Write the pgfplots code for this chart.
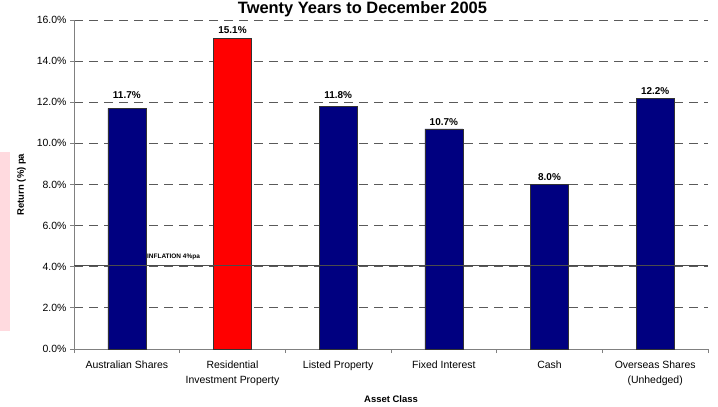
\documentclass[border=0pt]{standalone}
\usepackage{pgfplots}
\pgfplotsset{compat=1.18}
\usepackage{fontspec}
\setmainfont{Liberation Sans}
\definecolor{navybar}{HTML}{000080}
\definecolor{redbar}{HTML}{FF0000}
\definecolor{pinkbox}{HTML}{FFDADF}
\definecolor{gridc}{HTML}{5A5A5A}
\definecolor{axisc}{HTML}{808080}
\begin{document}
\begin{tikzpicture}[x=1bp,y=1bp]
\useasboundingbox (0,0) rectangle (718,406);
\node[anchor=base, inner sep=0pt, font=\bfseries\fontsize{16.5}{18}\selectfont] at (362.5,392.5) {Twenty Years to December 2005};
\fill[pinkbox] (0,75) rectangle (10,254);
\begin{axis}[
  at={(74bp,57bp)}, anchor=south west,
  scale only axis, width=634bp, height=329bp,
  xmin=-0.5, xmax=5.5, ymin=0, ymax=16,
  axis x line*=bottom, axis y line*=left,
  axis line style={axisc, line width=0.8pt, -},
  xtick={0,1,2,3,4,5},
  xticklabels={Australian Shares, {Residential\\Investment Property}, Listed Property, Fixed Interest, Cash, {Overseas Shares\\(Unhedged)}},
  xticklabel style={align=center, font=\fontsize{10.5}{15}\selectfont, yshift=-4bp},
  major x tick style={draw=none},
  minor xtick={-0.5,0.5,1.5,2.5,3.5,4.5,5.5},
  minor tick length=4bp,
  minor x tick style={axisc, line width=0.8pt},
  ytick={0,2,...,16},
  major tick length=4bp,
  tick align=outside,
  y tick style={axisc, line width=0.8pt},
  /pgf/number format/assume math mode=true,
  yticklabel={\pgfmathprintnumber[fixed,fixed zerofill,precision=1]{\tick}\%},
  yticklabel style={font=\fontsize{10.5}{12}\selectfont},
  ymajorgrids,
  grid style={gridc, line width=0.8pt, dash pattern=on 9bp off 6bp},
  xlabel={Asset Class},
  ylabel={Return (\%) pa},
  xlabel style={font=\bfseries\fontsize{9.5}{11}\selectfont, at={(axis description cs:0.5,-0.152)}, anchor=center},
  ylabel style={font=\bfseries\fontsize{9.5}{11}\selectfont, at={(axis description cs:-0.083,0.5)}, anchor=center},
  bar width=38bp,
  clip=false,
]
\addplot[ybar, fill=navybar, draw=black!80, line width=0.6pt,
  visualization depends on={\thisrow{s} \as \labelshift},
  nodes near coords={\pgfmathprintnumber[fixed,fixed zerofill,precision=1]{\pgfplotspointmeta}\%},
  nodes near coords style={font=\bfseries\fontsize{10}{12}\selectfont, anchor=base, inner sep=0pt, yshift=\labelshift bp},
  point meta=y]
  table {
x y s
0 11.7 10
2 11.8 8
3 10.7 3.5
4 8.0 4
5 12.2 3.7
};
\addplot[ybar, fill=redbar, draw=black!80, line width=0.6pt,
  visualization depends on={\thisrow{s} \as \labelshift},
  nodes near coords={\pgfmathprintnumber[fixed,fixed zerofill,precision=1]{\pgfplotspointmeta}\%},
  nodes near coords style={font=\bfseries\fontsize{10}{12}\selectfont, anchor=base, inner sep=0pt, yshift=\labelshift bp},
  point meta=y]
  table {
x y s
1 15.1 5
};
\addplot[black!70, line width=1.2pt, forget plot] coordinates {(-0.5,4.07) (5.5,4.07)};
\node[anchor=base west, inner sep=0pt, font=\bfseries\fontsize{6.5}{8}\selectfont] at (axis cs:0.19,4.38) {INFLATION 4\%pa};
\end{axis}
\end{tikzpicture}
\end{document}
